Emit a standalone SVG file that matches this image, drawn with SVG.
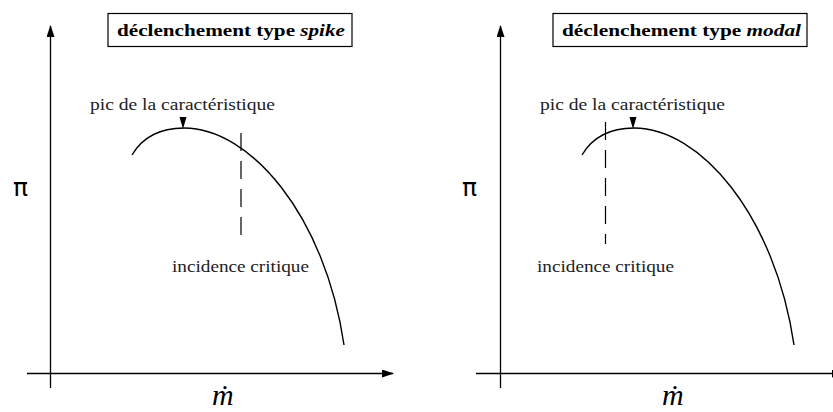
<svg xmlns="http://www.w3.org/2000/svg" width="833" height="412" viewBox="0 0 833 412">
<style>
.ax{stroke:#000;stroke-width:1.3;fill:none}
.cv{stroke:#000;stroke-width:1.4;fill:none}
.ds{stroke:#000;stroke-width:1.2;fill:none;stroke-dasharray:18 10}
.box{stroke:#000;stroke-width:1.2;fill:#fff}
.ttl{font-family:"Liberation Serif",serif;font-size:16.5px;font-weight:bold;fill:#000}
.lbl{font-family:"Liberation Serif",serif;font-size:16px;fill:#222}
.pi{font-family:"DejaVu Sans",sans-serif;font-size:25px;fill:#000}
.md{font-family:"Liberation Serif",serif;font-size:30px;font-style:italic;fill:#000}
.tri{fill:#000}
</style>
<defs>
<marker id="ah" viewBox="0 0 12 8" refX="11" refY="4" markerWidth="12" markerHeight="8" markerUnits="userSpaceOnUse" orient="auto">
<path d="M0,0 L12,4 L0,8 z" fill="#000"/>
</marker>
</defs>
<g id="connectors">
<line class="ax" x1="50.5" y1="388" x2="50.5" y2="26" marker-end="url(#ah)"/>
<line class="ax" x1="27" y1="373.5" x2="393" y2="373.5" marker-end="url(#ah)"/>
<line class="ax" x1="500.5" y1="388" x2="500.5" y2="26" marker-end="url(#ah)"/>
<line class="ax" x1="476" y1="373.5" x2="843" y2="373.5" marker-end="url(#ah)"/>
</g>
<g id="left-panel">
<g id="title-spike">
<rect class="box" x="108" y="13.5" width="244" height="33"/>
<text class="ttl" x="117" y="36" textLength="228" lengthAdjust="spacingAndGlyphs">déclenchement type <tspan font-style="italic">spike</tspan></text>
</g>
<g id="curve-left">
<path class="cv" d="M132,155 C145,133 165,128 184,128 C250,128 325,215 344,345"/>
<path class="tri" d="M179.5,117 L186.5,117 L183,129 z"/>
<text class="lbl" x="90" y="110" textLength="185" lengthAdjust="spacingAndGlyphs">pic de la caractéristique</text>
</g>
<g id="critical-left">
<line class="ds" x1="241" y1="133" x2="241" y2="235"/>
<text class="lbl" x="172" y="272" textLength="137" lengthAdjust="spacingAndGlyphs">incidence critique</text>
</g>
<text class="pi" x="13" y="196">π</text>
<text class="md" x="212" y="405">ṁ</text>
</g>
<g id="right-panel">
<g id="title-modal">
<rect class="box" x="553" y="13.5" width="254" height="33"/>
<text class="ttl" x="562" y="36" textLength="239" lengthAdjust="spacingAndGlyphs">déclenchement type <tspan font-style="italic">modal</tspan></text>
</g>
<g id="curve-right">
<path class="cv" d="M582,155 C595,133 615,128 634,128 C700,128 775,215 794,345"/>
<path class="tri" d="M629.5,117 L636.5,117 L633,129 z"/>
<text class="lbl" x="540" y="110" textLength="185" lengthAdjust="spacingAndGlyphs">pic de la caractéristique</text>
</g>
<g id="critical-right">
<line class="ds" x1="605.5" y1="122" x2="605.5" y2="244"/>
<text class="lbl" x="537" y="272" textLength="137" lengthAdjust="spacingAndGlyphs">incidence critique</text>
</g>
<text class="pi" x="462" y="196">π</text>
<text class="md" x="662" y="405">ṁ</text>
</g>
</svg>
